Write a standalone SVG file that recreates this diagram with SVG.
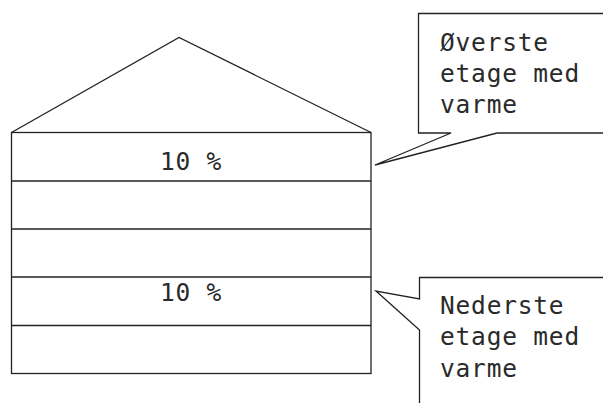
<svg xmlns="http://www.w3.org/2000/svg" width="603" height="403" viewBox="0 0 603 403">
<style>
.s{fill:none;stroke:#222;stroke-width:1.3}
.c{fill:#fff;stroke:#222;stroke-width:1.3}
text{font-family:"DejaVu Sans Mono","Liberation Mono",monospace;font-size:24.5px;letter-spacing:0.8px;fill:#2a2a2a}
</style>
<rect width="603" height="403" fill="#fff"/>
<g id="house">
<polyline class="s" points="11.5,132.5 179,37.5 371,132.5"/>
<rect class="s" x="11.5" y="132.5" width="359.5" height="241"/>
<line class="s" x1="11.5" y1="181" x2="371" y2="181"/>
<line class="s" x1="11.5" y1="229" x2="371" y2="229"/>
<line class="s" x1="11.5" y1="277" x2="371" y2="277"/>
<line class="s" x1="11.5" y1="325.5" x2="371" y2="325.5"/>
<text x="191" y="170" text-anchor="middle">10 %</text>
<text x="191" y="301" text-anchor="middle">10 %</text>
</g>
<g id="callout-top">
<path class="c" d="M418.5,13.5 H610 V133 H497 L375,165 L451,133 H418.5 Z"/>
<text x="440" y="51">Øverste</text>
<text x="440" y="82">etage med</text>
<text x="440" y="113">varme</text>
</g>
<g id="callout-bottom">
<path class="c" d="M419.5,277.5 H610 V410 H419.5 V330 L376,291 L419.5,299 Z"/>
<text x="440" y="314">Nederste</text>
<text x="440" y="345">etage med</text>
<text x="440" y="377">varme</text>
</g>
</svg>
